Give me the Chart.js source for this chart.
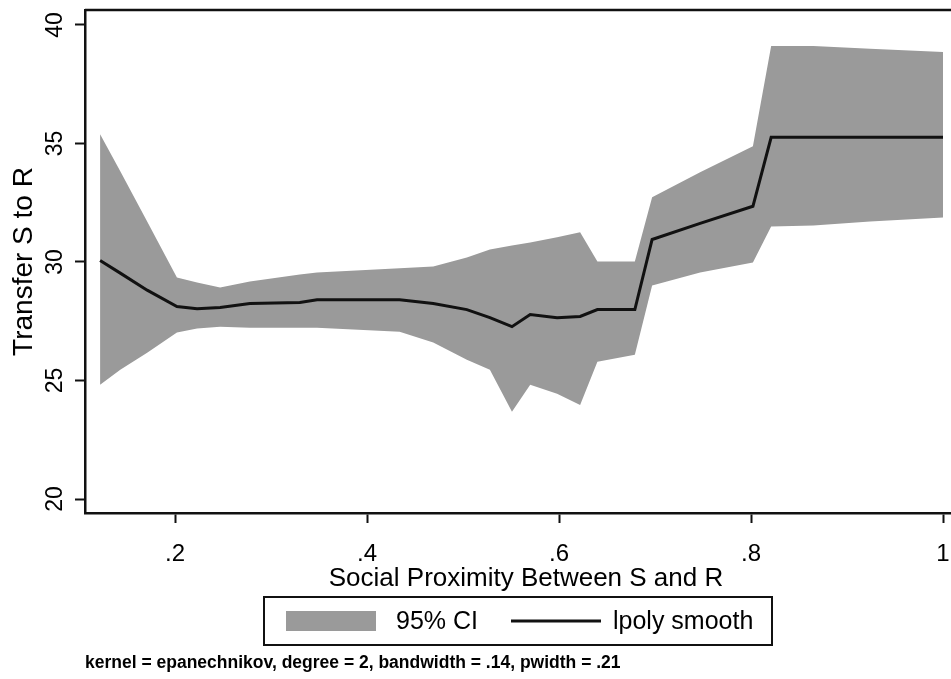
<!DOCTYPE html>
<html>
<head>
<meta charset="utf-8">
<script src="https://cdn.jsdelivr.net/npm/chart.js@4"></script>
<style>
  html, body { margin: 0; padding: 0; background: #fff; overflow: hidden; }
</style>
</head>
<body>
<canvas id="lpoly" width="967" height="679"></canvas>
<script>
// local polynomial smooth of transfers on social proximity, with 95% band
var proximity = [0.122, 0.143, 0.171, 0.202, 0.223, 0.247, 0.278, 0.330, 0.348, 0.434, 0.469, 0.504, 0.528,
                 0.551, 0.570, 0.598, 0.622, 0.640, 0.679, 0.697, 0.747, 0.802, 0.821, 0.865, 0.924, 1.000];
var ciUpper = [35.39, 33.83, 31.71, 29.34, 29.13, 28.92, 29.18, 29.47, 29.56, 29.73, 29.81, 30.19, 30.53,
               30.70, 30.82, 31.04, 31.25, 30.02, 30.02, 32.73, 33.78, 34.88, 39.11, 39.11, 38.99, 38.86];
var ciLower = [24.82, 25.45, 26.17, 27.02, 27.19, 27.27, 27.23, 27.23, 27.23, 27.06, 26.60, 25.88, 25.45,
               23.68, 24.82, 24.44, 23.97, 25.79, 26.09, 29.01, 29.56, 29.98, 31.50, 31.54, 31.71, 31.88];
var lpolyFit = [30.06, 29.53, 28.81, 28.12, 28.03, 28.08, 28.25, 28.29, 28.41, 28.41, 28.25, 27.99, 27.65,
                27.27, 27.78, 27.65, 27.70, 27.99, 27.99, 30.95, 31.63, 32.35, 35.26, 35.26, 35.26, 35.26];
var xTicks = [0.2, 0.4, 0.6, 0.8, 1];
var yTicks = [20, 25, 30, 35, 40];
var note = 'kernel = epanechnikov, degree = 2, bandwidth = .14, pwidth = .21';

function points(ys) {
    return proximity.map(function (x, i) { return {x: x, y: ys[i]}; });
}

var family = "'Liberation Sans', Arial, sans-serif";
Chart.defaults.font.family = family;
Chart.defaults.color = '#000';

// the plot region runs a little past the visible page on the right;
// the key is centred on the page itself
var pageWidth = 951;

// top edge of the plot region plus the boxed key under the axis title
var frame = {
    id: 'frame',
    afterDraw: function (chart) {
        var ctx = chart.ctx, a = chart.chartArea;
        var ds = chart.data.datasets;
        ctx.save();
        ctx.strokeStyle = '#111';
        ctx.lineWidth = 2.5;
        ctx.beginPath();
        ctx.moveTo(a.left, a.top);
        ctx.lineTo(a.right, a.top);
        ctx.stroke();

        var w = 508, h = 48;
        var left = Math.round((a.left + pageWidth) / 2 - w / 2), top = a.bottom + 84;
        var cy = top + h / 2;
        ctx.lineWidth = 2;
        ctx.strokeRect(left, top, w, h);

        ctx.fillStyle = ds[1].backgroundColor;
        ctx.fillRect(left + 22, cy - 10, 90, 20);

        ctx.strokeStyle = ds[0].borderColor;
        ctx.lineWidth = ds[0].borderWidth;
        ctx.beginPath();
        ctx.moveTo(left + 247, cy);
        ctx.lineTo(left + 337, cy);
        ctx.stroke();

        ctx.fillStyle = '#000';
        ctx.font = '25px ' + family;
        ctx.textBaseline = 'middle';
        ctx.textAlign = 'left';
        ctx.fillText(ds[1].label, left + 132, cy + 1);
        ctx.fillText(ds[0].label, left + 349, cy + 1);
        ctx.restore();
    }
};

var axisLine = {color: '#111', width: 2.5};
var tickMarks = {drawOnChartArea: false, tickLength: 10, tickWidth: 2, tickColor: '#111'};

function noPad(s) {
    s.paddingTop = 0;
    s.paddingBottom = 0;
    s.paddingLeft = 0;
    s.paddingRight = 0;
}

new Chart(document.getElementById('lpoly'), {
    type: 'line',
    data: {
        datasets: [
            {
                label: 'lpoly smooth',
                data: points(lpolyFit),
                borderColor: '#111',
                borderWidth: 3,
                pointRadius: 0,
                tension: 0,
                fill: false
            },
            {
                label: '95% CI',
                data: points(ciUpper),
                borderWidth: 0,
                backgroundColor: '#9a9a9a',
                pointRadius: 0,
                fill: '+1'
            },
            {
                label: '95% CI lower',
                data: points(ciLower),
                borderWidth: 0,
                backgroundColor: '#9a9a9a',
                pointRadius: 0,
                fill: false
            }
        ]
    },
    options: {
        responsive: false,
        animation: false,
        layout: {padding: {top: 10, right: 0, left: 0, bottom: 5}},
        scales: {
            x: {
                type: 'linear',
                min: 0.10625,
                max: 1.025,
                afterBuildTicks: function (s) { s.ticks = xTicks.map(function (v) { return {value: v}; }); },
                afterFit: function (s) { s.height = 140; noPad(s); },
                border: axisLine,
                grid: tickMarks,
                ticks: {
                    font: {size: 24},
                    padding: 17,
                    maxRotation: 0,
                    callback: function (v) { return v === 1 ? '1' : String(v).replace(/^0/, ''); }
                },
                title: {display: true, text: 'Social Proximity Between S and R', font: {size: 26}, padding: {top: 0, bottom: 59}}
            },
            y: {
                min: 19.41,
                max: 40.63,
                afterBuildTicks: function (s) { s.ticks = yTicks.map(function (v) { return {value: v}; }); },
                afterFit: function (s) { s.width = 85; noPad(s); },
                border: axisLine,
                grid: tickMarks,
                ticks: {font: {size: 23}, minRotation: 90, maxRotation: 90, crossAlign: 'center', padding: 7},
                title: {display: true, text: 'Transfer S to R', font: {size: 28}, padding: {top: 7, bottom: 0}}
            }
        },
        plugins: {
            legend: {display: false},
            subtitle: {
                display: true,
                text: note,
                position: 'bottom',
                align: 'start',
                fullSize: false,
                font: {size: 17.5, weight: 'bold'},
                padding: {top: 0, bottom: 0}
            },
            tooltip: {enabled: false}
        }
    },
    plugins: [frame]
});
</script>
</body>
</html>
